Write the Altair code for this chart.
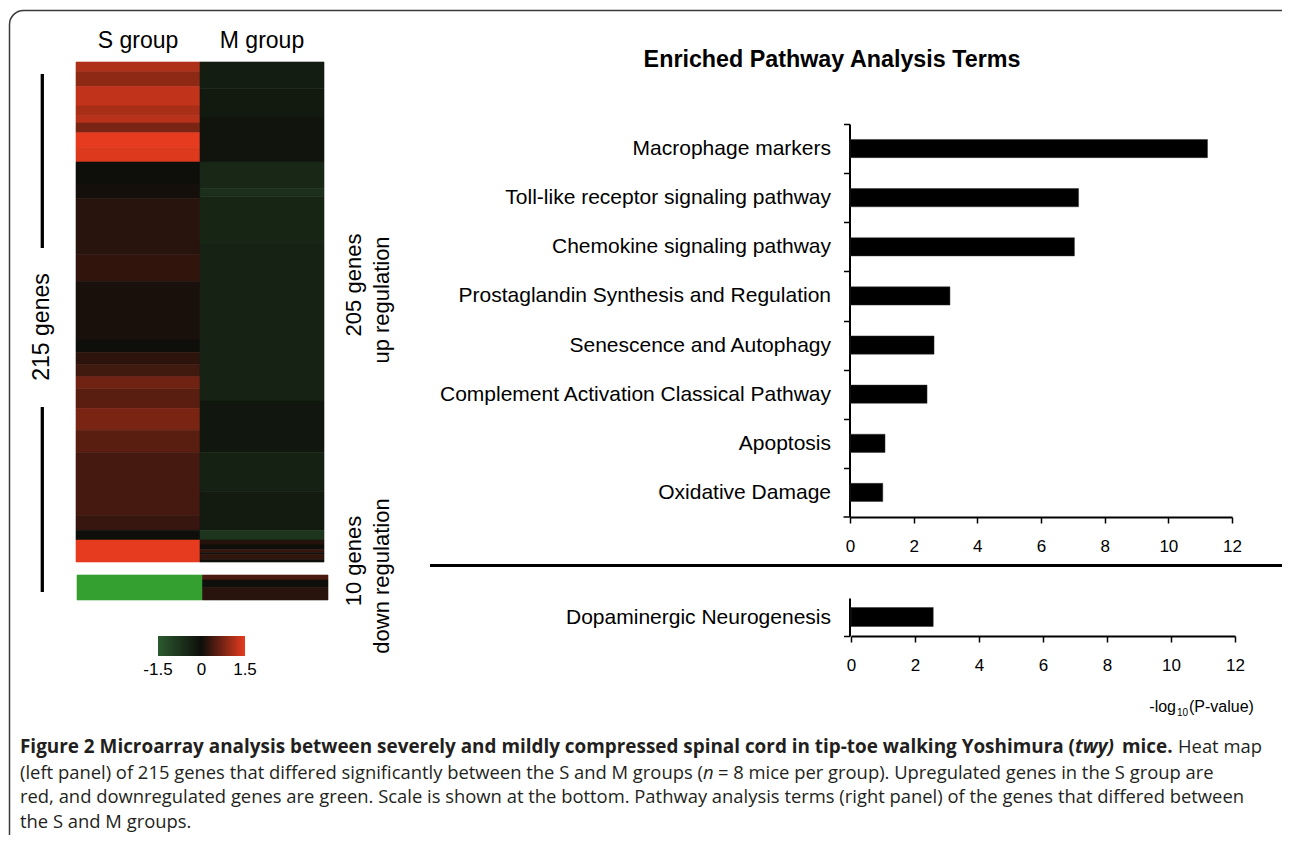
import altair as alt
import pandas as pd

# ---------------- data ----------------
groups = ["S group", "M group"]

# heat map, read top to bottom as runs of genes: (number of genes, log ratio)
s_up_counts = [4, 6, 8, 4, 3, 4, 6, 6, 9, 6, 23, 11, 24, 5, 5, 5, 5, 8, 9, 9, 26, 6, 4, 9]
s_up_values = [1.12, 0.89, 1.24, 1.07, 1.18, 0.75, 1.5, 1.44, -0.02, 0.04, 0.19, 0.24, 0.08, 0.0,
               0.21, 0.35, 0.69, 0.53, 0.75, 0.53, 0.38, 0.28, -0.02, 1.5]
m_up_counts = [11, 12, 18, 11, 3, 20, 64, 21, 16, 16, 4, 2, 2, 1, 1, 2, 1]
m_up_values = [-0.3, -0.22, -0.12, -0.5, -0.65, -0.45, -0.4, -0.16, -0.38, -0.25, -0.75,
               0.15, 0.0, 0.3, 0.05, 0.25, 0.02]
s_down_counts = [10]
s_down_values = [-3.0]
m_down_counts = [2, 3, 5]
m_down_values = [0.42, 0.0, 0.19]

colorbar_ticks = [-1.5, 0, 1.5]
colorbar_labels = ["-1.5", "0", "1.5"]

up_terms = ["Macrophage markers", "Toll-like receptor signaling pathway",
            "Chemokine signaling pathway", "Prostaglandin Synthesis and Regulation",
            "Senescence and Autophagy", "Complement Activation Classical Pathway",
            "Apoptosis", "Oxidative Damage"]
up_values = [11.23, 7.18, 7.05, 3.14, 2.64, 2.42, 1.10, 1.03]
down_terms = ["Dopaminergic Neurogenesis"]
down_values = [2.57]
axis_ticks = [0, 2, 4, 6, 8, 10, 12]

caption_1 = ["Figure 2 Microarray analysis between severely and mildly compressed spinal cord in tip-toe walking Yoshimura (",
             "twy)", "mice.", "Heat map"]
caption_2 = ["(left panel) of 215 genes that differed significantly between the S and M groups (",
             "n", "= 8 mice per group). Upregulated genes in the S group are"]
caption_3 = "red, and downregulated genes are green. Scale is shown at the bottom. Pathway analysis terms (right panel) of the genes that differed between"
caption_4 = "the S and M groups."

# ---------------- helpers ----------------
W, H = 1274, 827
FONT = "Liberation Sans"
CAP = "Open Sans"
CAP_REG = 18.4
CAP_BOLD = 18.9


def px(v):
    return v - 8


def runs(counts, values, group):
    rows, start = [], 0
    for c, v in zip(counts, values):
        rows.append({"group": group, "start": start, "end": start + c, "value": v})
        start += c
    return rows


def txt(label, x, y, size, weight="normal", style="normal", align="center",
        baseline="alphabetic", angle=0, font=FONT, color="black"):
    kw = dict(fontSize=size, fontWeight=weight, fontStyle=style, align=align,
              baseline=baseline, font=font, color=color)
    if angle:
        kw["angle"] = angle
    return alt.Chart(pd.DataFrame({"t": [label]})).mark_text(**kw).encode(
        text="t:N", x=alt.value(px(x)), y=alt.value(px(y)))


def rule(x1, x2, y1, y2, width, color="black"):
    return alt.Chart(pd.DataFrame({"a": [0]})).mark_rule(
        strokeWidth=width, color=color).encode(
        x=alt.value(px(x1)), x2=alt.value(px(x2)), y=alt.value(px(y1)), y2=alt.value(px(y2)))


cscale = alt.Scale(domain=[-3, -1.5, 0, 1.5],
                   range=["#34a030", "#2b5a2f", "#0e0e0a", "#e63b1e"], interpolate="rgb")

layers = []

# frame
layers.append(alt.Chart(pd.DataFrame({"a": [0]})).mark_rect(
    fillOpacity=0, stroke="#3a3a3a", strokeWidth=1.5, cornerRadius=14).encode(
    x=alt.value(px(9.5)), x2=alt.value(px(1400)), y=alt.value(px(10.5)), y2=alt.value(px(1100))))

# heat maps
up_df = pd.DataFrame(runs(s_up_counts, s_up_values, groups[0]) + runs(m_up_counts, m_up_values, groups[1]))
dn_df = pd.DataFrame(runs(s_down_counts, s_down_values, groups[0]) + runs(m_down_counts, m_down_values, groups[1]))


def heat(df, x0, x1, y0, y1, n):
    return alt.Chart(df).mark_rect(strokeWidth=0.6).encode(
        x=alt.X("group:N", scale=alt.Scale(domain=groups, range=[px(x0), px(x1)],
                                           paddingInner=0, paddingOuter=0), axis=None),
        y=alt.Y("start:Q", scale=alt.Scale(domain=[0, n], range=[px(y0), px(y1)],
                                           nice=False, zero=False), axis=None),
        y2="end:Q",
        fill=alt.Fill("value:Q", scale=cscale, legend=None),
        stroke=alt.Stroke("value:Q", scale=cscale, legend=None),
    )


layers.append(heat(up_df, 76, 324, 62, 562, sum(s_up_counts)))
layers.append(heat(dn_df, 77, 328, 575, 600, sum(s_down_counts)))

# group labels
layers.append(alt.Chart(pd.DataFrame({"group": groups})).mark_text(
    font=FONT, fontSize=23, baseline="alphabetic", color="black").encode(
    x=alt.X("group:N", scale=alt.Scale(domain=groups, range=[px(76), px(324)],
                                       paddingInner=0, paddingOuter=0), axis=None),
    y=alt.value(px(48)), text="group:N"))

# 215 genes bracket
layers.append(rule(42.3, 42.3, 74, 248, 3.3))
layers.append(rule(42.3, 42.3, 407, 592, 3.3))
layers.append(txt("215 genes", 42, 327, 23, angle=270, baseline="middle"))

# colour bar
cb_scale = alt.Scale(domain=[colorbar_ticks[0], colorbar_ticks[-1]], range=[px(158), px(245)],
                     nice=False, zero=False)
grad = alt.Gradient(gradient="linear", x1=0, x2=1, y1=0, y2=0, stops=[
    alt.GradientStop(color="#2b5a2f", offset=0),
    alt.GradientStop(color="#0e0e0a", offset=0.5),
    alt.GradientStop(color="#e63b1e", offset=1)])
layers.append(alt.Chart(pd.DataFrame({"lo": [colorbar_ticks[0]], "hi": [colorbar_ticks[-1]]}))
              .mark_rect(fill=grad).encode(
    x=alt.X("lo:Q", scale=cb_scale, axis=None), x2="hi:Q",
    y=alt.value(px(636)), y2=alt.value(px(656))))
layers.append(alt.Chart(pd.DataFrame({"v": colorbar_ticks, "t": colorbar_labels})).mark_text(
    font=FONT, fontSize=17, baseline="alphabetic", color="black").encode(
    x=alt.X("v:Q", scale=cb_scale, axis=None), y=alt.value(px(675)), text="t:N"))

# side notes
layers.append(txt("205 genes", 354, 285, 22, angle=270, baseline="middle"))
layers.append(txt("up regulation", 382, 300, 22, angle=270, baseline="middle"))
layers.append(txt("10 genes", 354, 561, 22, angle=270, baseline="middle"))
layers.append(txt("down regulation", 382, 576, 22, angle=270, baseline="middle"))

# title
layers.append(txt("Enriched Pathway Analysis Terms", 832, 67, 23.3, weight="bold"))


# bar charts
def bars(terms, values, y0, y1, x0, x1, pin, pout, tick_shift):
    step = (y1 - y0) / (len(terms) - pin + 2 * pout)
    df = pd.DataFrame({"term": terms, "value": values})
    return alt.Chart(df).mark_bar(color="black", stroke="#333333", strokeWidth=0.5).encode(
        x=alt.X("value:Q", scale=alt.Scale(domain=[axis_ticks[0], axis_ticks[-1]],
                                           range=[px(x0), px(x1)], nice=False, zero=False),
                axis=alt.Axis(orient="bottom", offset=px(y1) - H, values=axis_ticks, title=None,
                              grid=False, domainColor="black", domainWidth=2, tickColor="black",
                              tickWidth=1.5, tickSize=6, labelFont=FONT, labelFontSize=17,
                              labelColor="black", labelPadding=15, labelFlush=False)),
        y=alt.Y("term:N", sort=terms, scale=alt.Scale(domain=terms, range=[px(y0), px(y1)],
                                                     paddingInner=pin, paddingOuter=pout),
                axis=alt.Axis(orient="left", offset=-px(849.5), title=None, domainColor="black",
                              domainWidth=2, tickColor="black", tickWidth=1.5, tickSize=6,
                              tickOffset=tick_shift * step / 2, labelOffset=-tick_shift * step / 2,
                              labelFont=FONT, labelFontSize=21, labelColor="black",
                              labelLimit=0, labelPadding=13)),
    )


layers.append(bars(up_terms, up_values, 124, 517, 850, 1232, 0.63, 0.315, -1))
layers.append(rule(843.5, 849.5, 517, 517, 1.5))
layers.append(bars(down_terms, down_values, 598, 636, 851, 1235, 0.5, 0.25, 1))

# separator
layers.append(rule(430, 1400, 565.5, 565.5, 3))

# x-axis title -log10(P-value)
layers.append(txt("-log", 1176, 712, 16, align="right"))
layers.append(txt("10", 1177, 716, 10, align="left"))
layers.append(txt("(P-value)", 1189, 712, 16, align="left"))

# caption
CC = "#231f20"
layers.append(txt(caption_1[0], 20, 753, CAP_BOLD, weight="bold", align="left", font=CAP, color=CC))
layers.append(txt(caption_1[1], 1075, 753, CAP_BOLD, weight="bold", style="italic", align="left", font=CAP, color=CC))
layers.append(txt(caption_1[2], 1122, 753, CAP_BOLD, weight="bold", align="left", font=CAP, color=CC))
layers.append(txt(caption_1[3], 1178, 753, CAP_REG, align="left", font=CAP, color=CC))
layers.append(txt(caption_2[0], 20, 779, CAP_REG, align="left", font=CAP, color=CC))
layers.append(txt(caption_2[1], 703, 779, CAP_REG, style="italic", align="left", font=CAP, color=CC))
layers.append(txt(caption_2[2], 718, 779, CAP_REG, align="left", font=CAP, color=CC))
layers.append(txt(caption_3, 20, 803, CAP_REG, align="left", font=CAP, color=CC))
layers.append(txt(caption_4, 20, 828, CAP_REG, align="left", font=CAP, color=CC))

chart = alt.layer(*layers).resolve_scale(x="independent", y="independent").properties(
    width=W, height=H, autosize=alt.AutoSizeParams(type="none"), padding=0
).configure_view(stroke="transparent")

chart.save("out.html", embed_options={"renderer": "svg", "actions": False})
